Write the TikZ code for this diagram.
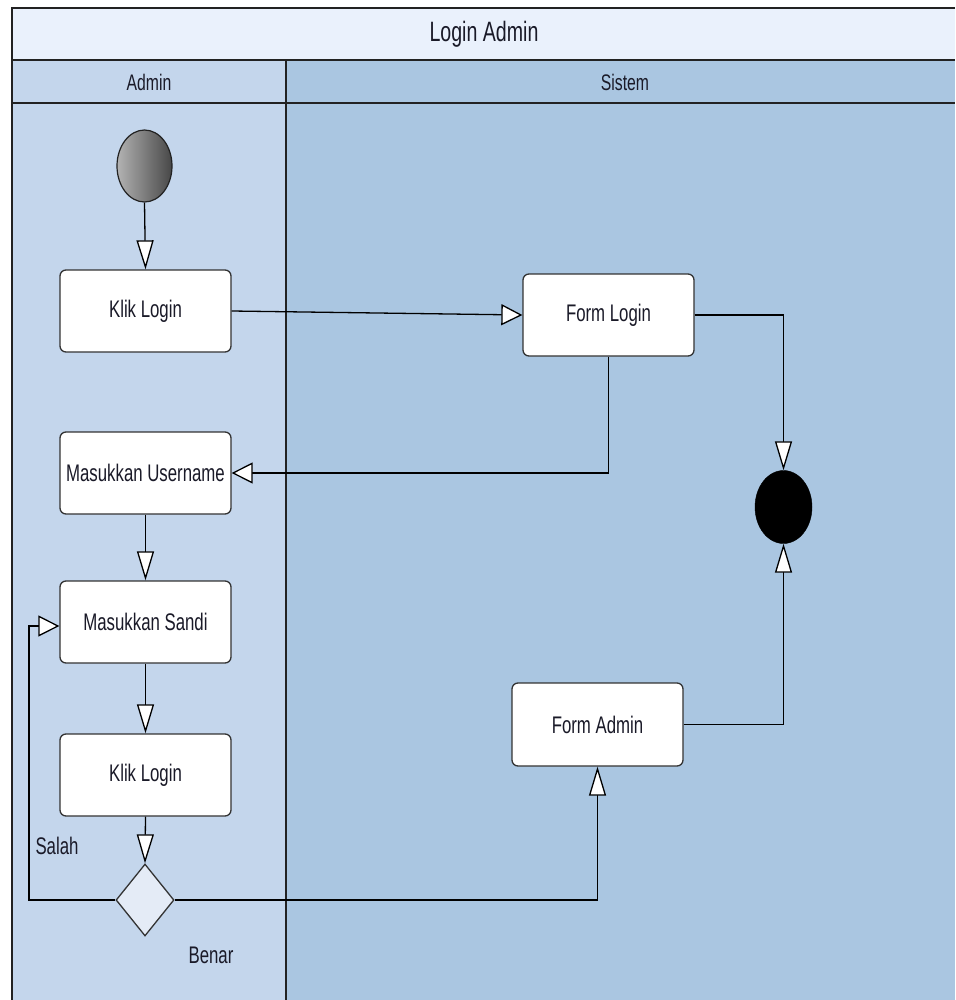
\documentclass[tikz,border=0pt]{standalone}
\usepackage{fontspec}
\setmainfont{Liberation Sans}[FakeStretch=0.7]
\usetikzlibrary{arrows.meta,shapes.geometric}

\definecolor{titlefill}{HTML}{EAF1FC}
\definecolor{adminfill}{HTML}{C4D6EC}
\definecolor{sistemfill}{HTML}{AAC6E1}
\definecolor{decfill}{HTML}{E4EBF6}
\definecolor{frameline}{HTML}{222222}
\definecolor{boxline}{HTML}{333333}
\definecolor{inktext}{HTML}{1A1A28}

\tikzset{
  vhead/.tip={Triangle[length=29pt,width=17pt,fill=white]},
  hhead/.tip={Triangle[length=21pt,width=21pt,fill=white]},
  frame/.style={draw=frameline,line width=2.2pt},
  activity/.style={draw=boxline,fill=white,line width=1.3pt,rounded corners=6pt,
    minimum width=171pt,minimum height=82pt,inner sep=0pt,
    font=\fontsize{24}{28}\selectfont,text=inktext},
  flow/.style={draw=black,line width=1.3pt},
  vflow/.style={flow,-vhead},
  hflow/.style={flow,-hhead},
  lanelabel/.style={font=\fontsize{22.5}{26}\selectfont,text=inktext},
  guard/.style={font=\fontsize{24}{28}\selectfont,text=inktext},
}

\begin{document}
\begin{tikzpicture}[x=1pt,y=-1pt]
\useasboundingbox (0,0) rectangle (955,1000);
\fill[white] (0,0) rectangle (955,1000);

% pool and lanes
\fill[titlefill] (12,8) rectangle (955,60);
\fill[adminfill] (12,60) rectangle (286,1000);
\fill[sistemfill] (286,60) rectangle (955,1000);
\node[font=\fontsize{28}{32}\selectfont,text=inktext] (pooltitle) at (484,34) {Login Admin};
\node[lanelabel] (adminlane) at (149,82) {Admin};
\node[lanelabel] (sistemlane) at (625,82) {Sistem};
\draw[frame] (955,8) -- (12,8) -- (12,1000);
\draw[frame] (12,60) -- (955,60);
\draw[frame] (12,103) -- (955,103);
\draw[frame] (286,60) -- (286,1000);

% start and end
\node[ellipse,draw=frameline,line width=1.2pt,minimum width=55pt,minimum height=72pt,inner sep=0pt,
      left color=gray!60!white,right color=black!72] (start) at (144.5,166) {};
\node[ellipse,fill=black,draw=black,minimum width=57pt,minimum height=73pt,inner sep=0pt] (finish) at (783.5,507) {};

% activities
\node[activity] (klik1) at (145.5,311) {Klik Login};
\node[activity] (formlogin) at (608.5,315) {Form Login};
\node[activity] (username) at (145.5,473) {Masukkan Username};
\node[activity] (sandi) at (145.5,622) {Masukkan Sandi};
\node[activity] (klik2) at (145.5,775) {Klik Login};
\node[activity,minimum height=83pt] (formadmin) at (597.5,724.5) {Form Admin};

% decision
\node[diamond,draw=boxline,fill=decfill,line width=1.3pt,aspect=0.8,
      minimum width=58pt,minimum height=72pt,inner sep=0pt] (check) at (145,900) {};
\coordinate (salahturn) at (29,900);

% guards
\node[guard] (salah) at (57,846) {Salah};
\node[guard] (benar) at (211,955) {Benar};

% flows
\draw[vflow] (start.south) -- (klik1.north);
\draw[hflow] (klik1.east) -- (formlogin.west);
\draw[hflow] (formlogin.south) |- (username.east);
\draw[vflow] (username.south) -- (sandi.north);
\draw[vflow] (sandi.south) -- (klik2.north);
\draw[vflow] (klik2.south) -- (check.north);
\draw[hflow] (check.west) -- (salahturn) |- ([yshift=-4pt]sandi.west);
\draw[vflow] (check.east) -| (formadmin.south);
\draw[vflow] (formadmin.east) -| (finish.south);
\draw[vflow] (formlogin.east) -| (finish.north);
\end{tikzpicture}
\end{document}
